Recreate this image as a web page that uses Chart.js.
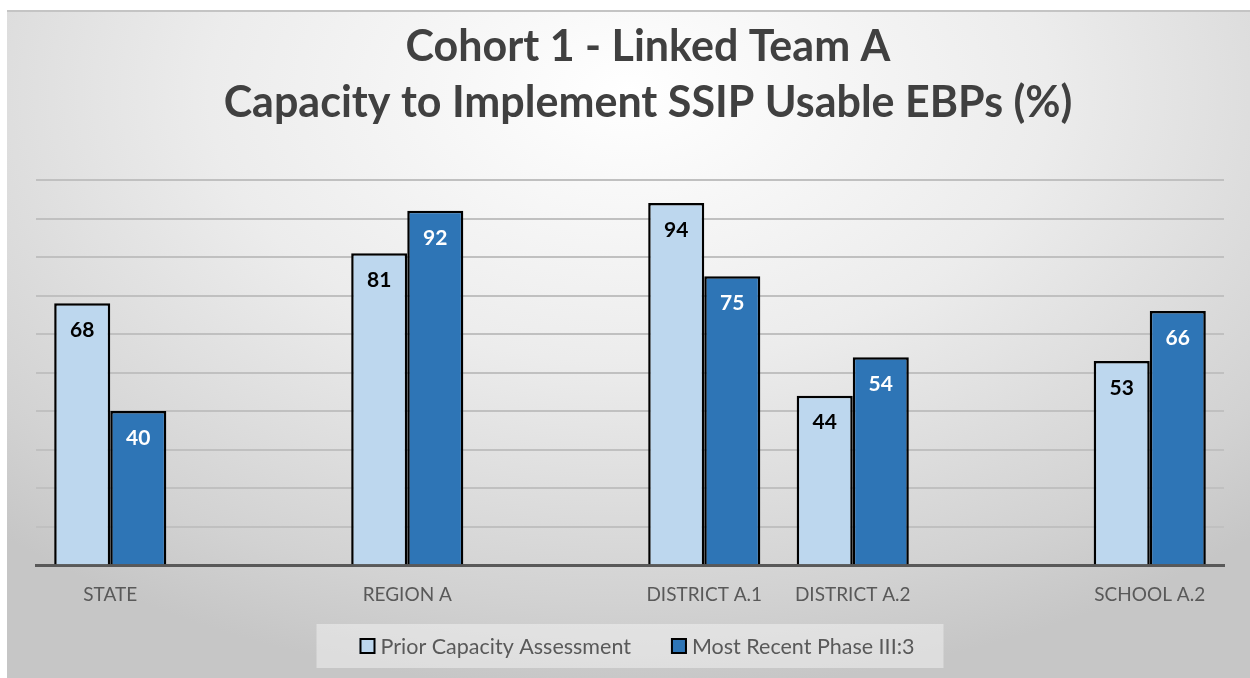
<!DOCTYPE html>
<html>
<head>
<meta charset="utf-8">
<script src="https://cdn.jsdelivr.net/npm/chart.js@4"></script>
<style>
    html, body { margin: 0; padding: 0; background: #ffffff; }
    #wrap {
        position: absolute; left: 7px; top: 10px; width: 1243px; height: 668px;
        background: radial-gradient(ellipse 75% 90% at 50% 12%, #ffffff 0%, #ececec 45%, #d2d2d2 85%, #c6c6c6 100%);
        border-top: 2px solid #c4c4c4;
        box-sizing: border-box;
    }
    canvas { display: block; }
</style>
</head>
<body>
<div id="wrap"><canvas id="chart" width="1243" height="666"></canvas></div>
<script>
// --- Dữ liệu ---
const categories = ['STATE', '', 'REGION A', '', 'DISTRICT A.1', 'DISTRICT A.2', '', 'SCHOOL A.2'];
const priorValues = [68, null, 81, null, 94, 44, null, 53];
const recentValues = [40, null, 92, null, 75, 54, null, 66];
const seriesNames = ['Prior Capacity Assessment', 'Most Recent Phase III:3'];
const titleLines = ['Cohort 1 - Linked Team A', 'Capacity to Implement SSIP Usable EBPs (%)'];

const FONT = "Lato, 'Open Sans', sans-serif";

// tiêu đề hai dòng (lệch phải một chút như bản gốc)
const titleDraw = {
    id: 'titleDraw',
    afterDraw(chart) {
        const ctx = chart.ctx;
        ctx.save();
        ctx.font = `bold 43px ${FONT}`;
        ctx.fillStyle = '#404040';
        ctx.textAlign = 'center';
        ctx.textBaseline = 'alphabetic';
        ctx.fillText(titleLines[0], 641, 49);
        ctx.fillText(titleLines[1], 641, 105);
        ctx.restore();
    }
};

// nhãn giá trị bên trong đầu cột
const valueLabels = {
    id: 'valueLabels',
    afterDatasetsDraw(chart) {
        const ctx = chart.ctx;
        ctx.save();
        ctx.font = `bold 21px ${FONT}`;
        ctx.textAlign = 'center';
        ctx.textBaseline = 'middle';
        chart.data.datasets.forEach((ds, i) => {
            const meta = chart.getDatasetMeta(i);
            ctx.fillStyle = i === 0 ? '#000000' : '#ffffff';
            meta.data.forEach((bar, j) => {
                if (ds.data[j] == null) return;
                ctx.fillText(ds.data[j], bar.x, bar.y + 27);
            });
        });
        ctx.restore();
    }
};

// chú thích tự vẽ
const legendDraw = {
    id: 'legendDraw',
    afterDraw(chart) {
        const ctx = chart.ctx;
        const ds = chart.data.datasets;
        const sq = 16, gap = 5, between = 40, cy = 634;
        ctx.save();
        ctx.font = `21.5px ${FONT}`;
        const widths = ds.map(d => sq + gap + ctx.measureText(d.label).width);
        const total = widths.reduce((a, b) => a + b, 0) + between * (ds.length - 1);
        let x = 630 - total / 2;
        ctx.fillStyle = 'rgba(255,255,255,0.4)';
        ctx.fillRect(x - 43, cy - 22, total + 43 + 29, 44);
        ctx.textBaseline = 'middle';
        ds.forEach((d, i) => {
            ctx.fillStyle = d.backgroundColor;
            ctx.fillRect(x, cy - sq / 2, sq, sq);
            ctx.lineWidth = 2;
            ctx.strokeStyle = '#000000';
            ctx.strokeRect(x + 1, cy - sq / 2 + 1, sq - 2, sq - 2);
            ctx.fillStyle = '#595959';
            ctx.fillText(d.label, x + sq + gap, cy + 1);
            x += widths[i] + between;
        });
        ctx.restore();
    }
};

new Chart(document.getElementById('chart'), {
    type: 'bar',
    data: {
        labels: categories,
        datasets: [{
            label: seriesNames[0],
            data: priorValues,
            backgroundColor: '#BDD7EE',
            borderColor: '#000000',
            borderWidth: 2.5
        }, {
            label: seriesNames[1],
            data: recentValues,
            backgroundColor: '#2E75B6',
            borderColor: '#000000',
            borderWidth: 2.5
        }]
    },
    options: {
        responsive: false,
        animation: false,
        layout: { padding: { left: 29, right: 26, top: 168, bottom: 54 } },
        datasets: { bar: { barPercentage: 1, categoryPercentage: 0.755 } },
        scales: {
            x: {
                grid: { display: false, drawTicks: false },
                border: { display: true, color: '#595959', width: 3 },
                ticks: { color: '#595959', font: { family: FONT, size: 19 }, padding: 18, maxRotation: 0, autoSkip: false }
            },
            y: {
                min: 0, max: 100,
                ticks: { display: false, stepSize: 10 },
                border: { display: false },
                grid: { color: '#c0c0c0', lineWidth: 2, drawTicks: false }
            }
        },
        plugins: {
            title: { display: false },
            legend: { display: false },
            tooltip: { enabled: false }
        }
    },
    plugins: [valueLabels, legendDraw, titleDraw]
});
</script>
</body>
</html>
